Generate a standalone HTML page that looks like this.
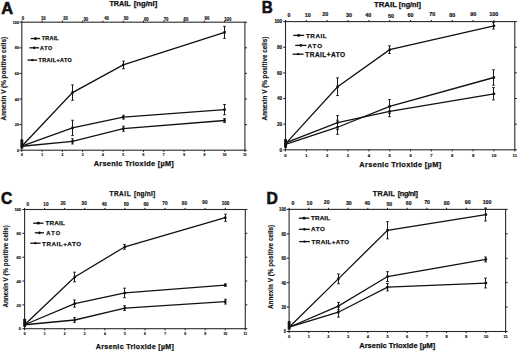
<!DOCTYPE html>
<html><head><meta charset="utf-8"><style>
html,body{margin:0;padding:0;background:#fff;}
svg{display:block;}
text{font-family:"Liberation Sans", sans-serif;font-weight:bold;fill:#111;}
.G,.T{stroke:#111;stroke-width:0.25px;}
.Y{stroke:#111;stroke-width:0.15px;}
.L{font-size:16.4px;stroke:#111;stroke-width:0.6px;}
.tb{font-size:3.7px;text-anchor:middle;fill:#111;stroke:#111;stroke-width:0.15px;}
.tt{font-size:5px;text-anchor:middle;fill:#111;stroke:#111;stroke-width:0.15px;}
.tl{font-size:4.1px;text-anchor:end;fill:#111;stroke:#111;stroke-width:0.15px;}
.ax{fill:none;stroke:#2a2a2a;stroke-width:1.1;}
.tk{fill:none;stroke:#1a1a1a;stroke-width:1.0;}
.dl{fill:none;stroke:#111;stroke-width:1.3;}
.ll{fill:none;stroke:#111;stroke-width:1.3;}
.eb{fill:none;stroke:#1a1a1a;stroke-width:1.0;}
.mk{fill:#111;}
</style></head><body>
<svg width="520" height="351" viewBox="0 0 520 351">
<text transform="translate(1.3,13.6) scale(1.0,1)" class="L">A</text>
<rect x="21.8" y="22.2" width="223.1" height="128" class="ax"/>
<path d="M21.8 150.2v1.6 M42.08 150.2v1.6 M62.36 150.2v1.6 M82.65 150.2v1.6 M102.93 150.2v1.6 M123.21 150.2v1.6 M143.49 150.2v1.6 M163.77 150.2v1.6 M184.05 150.2v1.6 M204.34 150.2v1.6 M224.62 150.2v1.6 M244.9 150.2v1.6 M21.8 22.2v-1.6 M42.08 22.2v-1.6 M62.36 22.2v-1.6 M82.65 22.2v-1.6 M102.93 22.2v-1.6 M123.21 22.2v-1.6 M143.49 22.2v-1.6 M163.77 22.2v-1.6 M184.05 22.2v-1.6 M204.34 22.2v-1.6 M224.62 22.2v-1.6 M21.8 150.2h-2.2 M244.9 150.2h2.0 M21.8 124.6h-2.2 M244.9 124.6h2.0 M21.8 99h-2.2 M244.9 99h2.0 M21.8 73.4h-2.2 M244.9 73.4h2.0 M21.8 47.8h-2.2 M244.9 47.8h2.0 M21.8 22.2h-2.2 M244.9 22.2h2.0" class="tk"/>
<text x="21.8" y="155.65" class="tb" style="font-size:3.3px">0</text>
<text x="42.08" y="155.65" class="tb" style="font-size:3.3px">1</text>
<text x="62.36" y="155.65" class="tb" style="font-size:3.3px">2</text>
<text x="82.65" y="155.65" class="tb" style="font-size:3.3px">3</text>
<text x="102.93" y="155.65" class="tb" style="font-size:3.3px">4</text>
<text x="123.21" y="155.65" class="tb" style="font-size:3.3px">5</text>
<text x="143.49" y="155.65" class="tb" style="font-size:3.3px">6</text>
<text x="163.77" y="155.65" class="tb" style="font-size:3.3px">7</text>
<text x="184.05" y="155.65" class="tb" style="font-size:3.3px">8</text>
<text x="204.34" y="155.65" class="tb" style="font-size:3.3px">9</text>
<text x="224.62" y="155.65" class="tb" style="font-size:3.3px">10</text>
<text x="244.9" y="155.65" class="tb" style="font-size:3.3px">11</text>
<text x="23" y="20.05" class="tt" style="font-size:4.7px" textLength="2.4" lengthAdjust="spacingAndGlyphs">0</text>
<text x="43.28" y="20.05" class="tt" style="font-size:4.7px" textLength="4.8" lengthAdjust="spacingAndGlyphs">10</text>
<text x="65.56" y="20.25" class="tt" style="font-size:4.7px" textLength="4.8" lengthAdjust="spacingAndGlyphs">20</text>
<text x="85.85" y="20.65" class="tt" style="font-size:4.7px" textLength="4.8" lengthAdjust="spacingAndGlyphs">30</text>
<text x="106.63" y="20.25" class="tt" style="font-size:4.7px" textLength="4.8" lengthAdjust="spacingAndGlyphs">40</text>
<text x="126.11" y="20.05" class="tt" style="font-size:4.7px" textLength="4.8" lengthAdjust="spacingAndGlyphs">50</text>
<text x="146.29" y="20.65" class="tt" style="font-size:4.7px" textLength="4.8" lengthAdjust="spacingAndGlyphs">60</text>
<text x="166.07" y="20.55" class="tt" style="font-size:4.7px" textLength="4.8" lengthAdjust="spacingAndGlyphs">70</text>
<text x="185.95" y="20.95" class="tt" style="font-size:4.7px" textLength="4.8" lengthAdjust="spacingAndGlyphs">80</text>
<text x="206.94" y="20.25" class="tt" style="font-size:4.7px" textLength="4.8" lengthAdjust="spacingAndGlyphs">90</text>
<text x="227.82" y="20.95" class="tt" style="font-size:4.7px" textLength="7.2" lengthAdjust="spacingAndGlyphs">100</text>
<text x="19" y="151.75" class="tl" style="font-size:3.8px" textLength="2.1" lengthAdjust="spacingAndGlyphs">0</text>
<text x="19" y="126.15" class="tl" style="font-size:3.8px" textLength="4.2" lengthAdjust="spacingAndGlyphs">20</text>
<text x="19" y="100.55" class="tl" style="font-size:3.8px" textLength="4.2" lengthAdjust="spacingAndGlyphs">40</text>
<text x="19" y="74.95" class="tl" style="font-size:3.8px" textLength="4.2" lengthAdjust="spacingAndGlyphs">60</text>
<text x="19" y="49.35" class="tl" style="font-size:3.8px" textLength="4.2" lengthAdjust="spacingAndGlyphs">80</text>
<text x="19" y="23.75" class="tl" style="font-size:3.8px" textLength="6.3" lengthAdjust="spacingAndGlyphs">100</text>
<text x="109.4" y="5.8" class="T" style="font-size:6.31px" textLength="21.2" lengthAdjust="spacingAndGlyphs">TRAIL</text>
<text x="133.8" y="5.8" class="T" style="font-size:6.31px" textLength="23.4" lengthAdjust="spacingAndGlyphs">[ng/nl]</text>
<text x="93.7" y="165.9" class="T" style="font-size:7.32px" textLength="80.1" lengthAdjust="spacing">Arsenic Trioxide [µM]</text>
<text transform="translate(6.3,120.4) rotate(-90)" class="Y" style="font-size:6.58px" textLength="83.6" lengthAdjust="spacingAndGlyphs">Annexin V (% positive cells)</text>
<path d="M30.7 38.55H40.2" class="ll"/>
<ellipse cx="35.45" cy="38.55" rx="1.7" ry="1.35" class="mk"/>
<text x="41.8" y="40.4" class="G" style="font-size:5.46px" textLength="16.9" lengthAdjust="spacing">TRAIL</text>
<path d="M29.5 47.8H39" class="ll"/>
<circle cx="34.25" cy="47.8" r="1.35" class="mk"/>
<text x="39.9" y="49.5" class="G" style="font-size:5.32px" textLength="12.3" lengthAdjust="spacing">ATO</text>
<path d="M27.5 60.1H37.2" class="ll"/>
<ellipse cx="32.35" cy="60.1" rx="1.4" ry="1.1" class="mk"/>
<text x="38.4" y="62" class="G" style="font-size:5.46px" textLength="33.4" lengthAdjust="spacing">TRAIL+ATO</text>
<polyline points="21.8,146.23 72.5,92.6 123.21,64.95 224.62,32.31" class="dl"/>
<path d="M72.5 84.92V100.28M71.2 84.92h2.6M71.2 100.28h2.6 M123.5 61.11V68.79M122.2 61.11h2.6M122.2 68.79h2.6 M224.5 26.3V38.33M223.2 26.3h2.6M223.2 38.33h2.6" class="eb"/>
<rect x="71.3" y="91.4" width="2.4" height="2.4" class="mk"/>
<rect x="122.01" y="63.75" width="2.4" height="2.4" class="mk"/>
<rect x="223.42" y="31.11" width="2.4" height="2.4" class="mk"/>
<polyline points="21.8,146.23 72.5,127.93 123.21,117.18 224.62,109.62" class="dl"/>
<path d="M72.5 120.25V135.61M71.2 120.25h2.6M71.2 135.61h2.6 M123.5 115.26V119.1M122.2 115.26h2.6M122.2 119.1h2.6 M224.5 104.5V114.74M223.2 104.5h2.6M223.2 114.74h2.6" class="eb"/>
<rect x="71.3" y="126.73" width="2.4" height="2.4" class="mk"/>
<rect x="122.01" y="115.98" width="2.4" height="2.4" class="mk"/>
<rect x="223.42" y="108.42" width="2.4" height="2.4" class="mk"/>
<polyline points="21.8,146.23 72.5,141.37 123.21,128.7 224.62,120.5" class="dl"/>
<path d="M72.5 138.81V143.93M71.2 138.81h2.6M71.2 143.93h2.6 M123.5 126.14V131.26M122.2 126.14h2.6M122.2 131.26h2.6 M224.5 118.58V122.42M223.2 118.58h2.6M223.2 122.42h2.6" class="eb"/>
<rect x="71.3" y="140.17" width="2.4" height="2.4" class="mk"/>
<rect x="122.01" y="127.5" width="2.4" height="2.4" class="mk"/>
<rect x="223.42" y="119.3" width="2.4" height="2.4" class="mk"/>
<rect x="20.4" y="139.32" width="2.9" height="9.22" rx="0.6" class="mk"/>
<text transform="translate(261.8,13.4) scale(0.93,1)" class="L">B</text>
<rect x="285.5" y="21.6" width="229.3" height="128.2" class="ax"/>
<path d="M285.5 149.8v1.6 M306.35 149.8v1.6 M327.19 149.8v1.6 M348.04 149.8v1.6 M368.88 149.8v1.6 M389.73 149.8v1.6 M410.57 149.8v1.6 M431.42 149.8v1.6 M452.26 149.8v1.6 M473.11 149.8v1.6 M493.95 149.8v1.6 M514.8 149.8v1.6 M285.5 21.6v-1.6 M306.35 21.6v-1.6 M327.19 21.6v-1.6 M348.04 21.6v-1.6 M368.88 21.6v-1.6 M389.73 21.6v-1.6 M410.57 21.6v-1.6 M431.42 21.6v-1.6 M452.26 21.6v-1.6 M473.11 21.6v-1.6 M493.95 21.6v-1.6 M285.5 149.8h-2.2 M514.8 149.8h2.0 M285.5 124.16h-2.2 M514.8 124.16h2.0 M285.5 98.52h-2.2 M514.8 98.52h2.0 M285.5 72.88h-2.2 M514.8 72.88h2.0 M285.5 47.24h-2.2 M514.8 47.24h2.0 M285.5 21.6h-2.2 M514.8 21.6h2.0" class="tk"/>
<text x="285.5" y="156.5" class="tb" style="font-size:4.2px">0</text>
<text x="306.35" y="156.5" class="tb" style="font-size:4.2px">1</text>
<text x="327.19" y="156.5" class="tb" style="font-size:4.2px">2</text>
<text x="348.04" y="156.5" class="tb" style="font-size:4.2px">3</text>
<text x="368.88" y="156.5" class="tb" style="font-size:4.2px">4</text>
<text x="389.73" y="156.5" class="tb" style="font-size:4.2px">5</text>
<text x="410.57" y="156.5" class="tb" style="font-size:4.2px">6</text>
<text x="431.42" y="156.5" class="tb" style="font-size:4.2px">7</text>
<text x="452.26" y="156.5" class="tb" style="font-size:4.2px">8</text>
<text x="473.11" y="156.5" class="tb" style="font-size:4.2px">9</text>
<text x="493.95" y="156.5" class="tb" style="font-size:4.2px">10</text>
<text x="514.8" y="156.5" class="tb" style="font-size:4.2px">11</text>
<text x="288.9" y="17.4" class="tt" style="font-size:5.0px" textLength="3" lengthAdjust="spacingAndGlyphs">0</text>
<text x="307.75" y="17.3" class="tt" style="font-size:5.0px" textLength="6" lengthAdjust="spacingAndGlyphs">10</text>
<text x="325.29" y="16.2" class="tt" style="font-size:5.0px" textLength="6" lengthAdjust="spacingAndGlyphs">20</text>
<text x="349.14" y="16.8" class="tt" style="font-size:5.0px" textLength="6" lengthAdjust="spacingAndGlyphs">30</text>
<text x="368.28" y="17.2" class="tt" style="font-size:5.0px" textLength="6" lengthAdjust="spacingAndGlyphs">40</text>
<text x="391.13" y="17.6" class="tt" style="font-size:5.0px" textLength="6" lengthAdjust="spacingAndGlyphs">50</text>
<text x="410.57" y="17.2" class="tt" style="font-size:5.0px" textLength="6" lengthAdjust="spacingAndGlyphs">60</text>
<text x="432.22" y="15.9" class="tt" style="font-size:5.0px" textLength="6" lengthAdjust="spacingAndGlyphs">70</text>
<text x="452.36" y="17" class="tt" style="font-size:5.0px" textLength="6" lengthAdjust="spacingAndGlyphs">80</text>
<text x="473.31" y="15.6" class="tt" style="font-size:5.0px" textLength="6" lengthAdjust="spacingAndGlyphs">90</text>
<text x="493.75" y="15.9" class="tt" style="font-size:5.0px" textLength="9" lengthAdjust="spacingAndGlyphs">100</text>
<text x="282.2" y="151.6" class="tl" style="font-size:4.5px" textLength="2.6" lengthAdjust="spacingAndGlyphs">0</text>
<text x="282.2" y="125.96" class="tl" style="font-size:4.5px" textLength="5.2" lengthAdjust="spacingAndGlyphs">20</text>
<text x="282.2" y="100.32" class="tl" style="font-size:4.5px" textLength="5.2" lengthAdjust="spacingAndGlyphs">40</text>
<text x="282.2" y="74.68" class="tl" style="font-size:4.5px" textLength="5.2" lengthAdjust="spacingAndGlyphs">60</text>
<text x="282.2" y="49.04" class="tl" style="font-size:4.5px" textLength="5.2" lengthAdjust="spacingAndGlyphs">80</text>
<text x="282.2" y="23.4" class="tl" style="font-size:4.5px" textLength="7.8" lengthAdjust="spacingAndGlyphs">100</text>
<text x="374" y="6.9" class="T" style="font-size:6.58px" textLength="22.9" lengthAdjust="spacingAndGlyphs">TRAIL</text>
<text x="398.8" y="6.9" class="T" style="font-size:6.58px" textLength="22.2" lengthAdjust="spacingAndGlyphs">[ng/nl]</text>
<text x="359.3" y="167.1" class="T" style="font-size:7.45px" textLength="81.9" lengthAdjust="spacing">Arsenic Trioxide [µM]</text>
<text transform="translate(267.1,120.4) rotate(-90)" class="Y" style="font-size:6.58px" textLength="83.7" lengthAdjust="spacingAndGlyphs">Annexin V (% positive cells)</text>
<path d="M293.2 35.4H304.2" class="ll"/>
<ellipse cx="298.7" cy="35.4" rx="1.7" ry="1.35" class="mk"/>
<text x="305.9" y="37.5" class="G" style="font-size:6.25px" textLength="20.8" lengthAdjust="spacing">TRAIL</text>
<path d="M295.2 45.4H306.5" class="ll"/>
<circle cx="300.85" cy="45.4" r="1.35" class="mk"/>
<text x="307.6" y="47.5" class="G" style="font-size:6.25px" textLength="14.4" lengthAdjust="spacing">ATO</text>
<path d="M292.6 54.2H303.6" class="ll"/>
<ellipse cx="298.1" cy="54.2" rx="1.4" ry="1.1" class="mk"/>
<text x="305.3" y="56.5" class="G" style="font-size:6.52px" textLength="39.8" lengthAdjust="spacing">TRAIL+ATO</text>
<polyline points="285.5,143.9 337.61,86.73 389.73,49.68 493.95,25.83" class="dl"/>
<path d="M337.5 77.88V95.57M336.2 77.88h2.6M336.2 95.57h2.6 M389.5 45.83V53.52M388.2 45.83h2.6M388.2 53.52h2.6 M493.5 22.63V29.04M492.2 22.63h2.6M492.2 29.04h2.6" class="eb"/>
<rect x="336.41" y="85.53" width="2.4" height="2.4" class="mk"/>
<rect x="388.53" y="48.48" width="2.4" height="2.4" class="mk"/>
<rect x="492.75" y="24.63" width="2.4" height="2.4" class="mk"/>
<polyline points="285.5,144.29 337.61,127.24 389.73,106.47 493.95,77.5" class="dl"/>
<path d="M337.5 120.19V134.29M336.2 120.19h2.6M336.2 134.29h2.6 M389.5 99.55V113.39M388.2 99.55h2.6M388.2 113.39h2.6 M493.5 69.8V85.19M492.2 69.8h2.6M492.2 85.19h2.6" class="eb"/>
<rect x="336.41" y="126.04" width="2.4" height="2.4" class="mk"/>
<rect x="388.53" y="105.27" width="2.4" height="2.4" class="mk"/>
<rect x="492.75" y="76.3" width="2.4" height="2.4" class="mk"/>
<polyline points="285.5,142.88 337.61,122.62 389.73,111.34 493.95,93.78" class="dl"/>
<path d="M337.5 115.57V129.67M336.2 115.57h2.6M336.2 129.67h2.6 M389.5 105.96V116.72M388.2 105.96h2.6M388.2 116.72h2.6 M493.5 87.62V99.93M492.2 87.62h2.6M492.2 99.93h2.6" class="eb"/>
<rect x="336.41" y="121.42" width="2.4" height="2.4" class="mk"/>
<rect x="388.53" y="110.14" width="2.4" height="2.4" class="mk"/>
<rect x="492.75" y="92.58" width="2.4" height="2.4" class="mk"/>
<rect x="284.1" y="138.9" width="2.9" height="8.97" rx="0.6" class="mk"/>
<text transform="translate(0.9,203.95) scale(0.95,1)" class="L">C</text>
<rect x="24.6" y="209.5" width="220.7" height="119.2" class="ax"/>
<path d="M24.6 328.7v1.6 M44.66 328.7v1.6 M64.73 328.7v1.6 M84.79 328.7v1.6 M104.85 328.7v1.6 M124.92 328.7v1.6 M144.98 328.7v1.6 M165.05 328.7v1.6 M185.11 328.7v1.6 M205.17 328.7v1.6 M225.24 328.7v1.6 M245.3 328.7v1.6 M24.6 209.5v-1.6 M44.66 209.5v-1.6 M64.73 209.5v-1.6 M84.79 209.5v-1.6 M104.85 209.5v-1.6 M124.92 209.5v-1.6 M144.98 209.5v-1.6 M165.05 209.5v-1.6 M185.11 209.5v-1.6 M205.17 209.5v-1.6 M225.24 209.5v-1.6 M24.6 328.7h-2.2 M245.3 328.7h2.0 M24.6 304.86h-2.2 M245.3 304.86h2.0 M24.6 281.02h-2.2 M245.3 281.02h2.0 M24.6 257.18h-2.2 M245.3 257.18h2.0 M24.6 233.34h-2.2 M245.3 233.34h2.0 M24.6 209.5h-2.2 M245.3 209.5h2.0" class="tk"/>
<text x="24.6" y="335.15" class="tb" style="font-size:3.3px">0</text>
<text x="44.66" y="335.15" class="tb" style="font-size:3.3px">1</text>
<text x="64.73" y="335.15" class="tb" style="font-size:3.3px">2</text>
<text x="84.79" y="335.15" class="tb" style="font-size:3.3px">3</text>
<text x="104.85" y="335.15" class="tb" style="font-size:3.3px">4</text>
<text x="124.92" y="335.15" class="tb" style="font-size:3.3px">5</text>
<text x="144.98" y="335.15" class="tb" style="font-size:3.3px">6</text>
<text x="165.05" y="335.15" class="tb" style="font-size:3.3px">7</text>
<text x="185.11" y="335.15" class="tb" style="font-size:3.3px">8</text>
<text x="205.17" y="335.15" class="tb" style="font-size:3.3px">9</text>
<text x="225.24" y="335.15" class="tb" style="font-size:3.3px">10</text>
<text x="245.3" y="335.15" class="tb" style="font-size:3.3px">11</text>
<text x="27.9" y="205.9" class="tt" style="font-size:5.0px" textLength="2.6" lengthAdjust="spacingAndGlyphs">0</text>
<text x="45.96" y="205.6" class="tt" style="font-size:5.0px" textLength="5.2" lengthAdjust="spacingAndGlyphs">10</text>
<text x="63.03" y="204.8" class="tt" style="font-size:5.0px" textLength="5.2" lengthAdjust="spacingAndGlyphs">20</text>
<text x="84.19" y="205.4" class="tt" style="font-size:5.0px" textLength="5.2" lengthAdjust="spacingAndGlyphs">30</text>
<text x="104.25" y="205.8" class="tt" style="font-size:5.0px" textLength="5.2" lengthAdjust="spacingAndGlyphs">40</text>
<text x="126.32" y="205.8" class="tt" style="font-size:5.0px" textLength="5.2" lengthAdjust="spacingAndGlyphs">50</text>
<text x="146.08" y="206.1" class="tt" style="font-size:5.0px" textLength="5.2" lengthAdjust="spacingAndGlyphs">60</text>
<text x="164.95" y="204.9" class="tt" style="font-size:5.0px" textLength="5.2" lengthAdjust="spacingAndGlyphs">70</text>
<text x="184.41" y="205.4" class="tt" style="font-size:5.0px" textLength="5.2" lengthAdjust="spacingAndGlyphs">80</text>
<text x="204.97" y="204.1" class="tt" style="font-size:5.0px" textLength="5.2" lengthAdjust="spacingAndGlyphs">90</text>
<text x="225.54" y="204.8" class="tt" style="font-size:5.0px" textLength="7.8" lengthAdjust="spacingAndGlyphs">100</text>
<text x="21" y="330.36" class="tl" style="font-size:4.1px" textLength="2.2" lengthAdjust="spacingAndGlyphs">0</text>
<text x="21" y="306.52" class="tl" style="font-size:4.1px" textLength="4.4" lengthAdjust="spacingAndGlyphs">20</text>
<text x="21" y="282.68" class="tl" style="font-size:4.1px" textLength="4.4" lengthAdjust="spacingAndGlyphs">40</text>
<text x="21" y="258.84" class="tl" style="font-size:4.1px" textLength="4.4" lengthAdjust="spacingAndGlyphs">60</text>
<text x="21" y="235" class="tl" style="font-size:4.1px" textLength="4.4" lengthAdjust="spacingAndGlyphs">80</text>
<text x="21" y="211.16" class="tl" style="font-size:4.1px" textLength="6.6" lengthAdjust="spacingAndGlyphs">100</text>
<text x="109.4" y="195.9" class="T" style="font-size:6.45px" textLength="21.2" lengthAdjust="spacing">TRAIL</text>
<text x="134" y="195.9" class="T" style="font-size:6.45px" textLength="21.2" lengthAdjust="spacing">[ng/nl]</text>
<text x="95.7" y="349" class="T" style="font-size:7.05px" textLength="78.2" lengthAdjust="spacing">Arsenic Trioxide [µM]</text>
<text transform="translate(8.3,307.6) rotate(-90)" class="Y" style="font-size:6.86px" textLength="82.4" lengthAdjust="spacingAndGlyphs">Annexin V (% positive cells)</text>
<path d="M33.1 223.2H43.5" class="ll"/>
<ellipse cx="38.3" cy="223.2" rx="1.7" ry="1.35" class="mk"/>
<text x="45.5" y="225.3" class="G" style="font-size:6.25px" textLength="19.3" lengthAdjust="spacing">TRAIL</text>
<path d="M34.8 232.8H44" class="ll"/>
<circle cx="39.4" cy="232.8" r="1.35" class="mk"/>
<text x="46.3" y="234.5" class="G" style="font-size:5.72px" textLength="13.9" lengthAdjust="spacing">ATO</text>
<path d="M30.2 243.2H40.6" class="ll"/>
<ellipse cx="35.4" cy="243.2" rx="1.4" ry="1.1" class="mk"/>
<text x="42.1" y="245.6" class="G" style="font-size:6.25px" textLength="38.9" lengthAdjust="spacing">TRAIL+ATO</text>
<polyline points="24.6,324.77 74.76,276.97 124.92,246.81 225.24,217.72" class="dl"/>
<path d="M74.5 272.2V281.74M73.2 272.2h2.6M73.2 281.74h2.6 M124.5 244.43V249.19M123.2 244.43h2.6M123.2 249.19h2.6 M225.5 214.15V221.3M224.2 214.15h2.6M224.2 221.3h2.6" class="eb"/>
<rect x="73.56" y="275.77" width="2.4" height="2.4" class="mk"/>
<rect x="123.72" y="245.61" width="2.4" height="2.4" class="mk"/>
<rect x="224.04" y="216.52" width="2.4" height="2.4" class="mk"/>
<polyline points="24.6,324.77 74.76,303.55 124.92,292.94 225.24,285.07" class="dl"/>
<path d="M74.5 299.97V307.12M73.2 299.97h2.6M73.2 307.12h2.6 M124.5 288.17V297.71M123.2 288.17h2.6M123.2 297.71h2.6 M225.5 283.88V286.26M224.2 283.88h2.6M224.2 286.26h2.6" class="eb"/>
<rect x="73.56" y="302.35" width="2.4" height="2.4" class="mk"/>
<rect x="123.72" y="291.74" width="2.4" height="2.4" class="mk"/>
<rect x="224.04" y="283.87" width="2.4" height="2.4" class="mk"/>
<polyline points="24.6,324.77 74.76,320 124.92,308.08 225.24,301.64" class="dl"/>
<path d="M74.5 317.61V322.38M73.2 317.61h2.6M73.2 322.38h2.6 M124.5 305.69V310.46M123.2 305.69h2.6M123.2 310.46h2.6 M225.5 299.26V304.03M224.2 299.26h2.6M224.2 304.03h2.6" class="eb"/>
<rect x="73.56" y="318.8" width="2.4" height="2.4" class="mk"/>
<rect x="123.72" y="306.88" width="2.4" height="2.4" class="mk"/>
<rect x="224.04" y="300.44" width="2.4" height="2.4" class="mk"/>
<rect x="23.2" y="318.69" width="2.9" height="8.22" rx="0.6" class="mk"/>
<text transform="translate(266.4,203.6) scale(0.96,1)" class="L">D</text>
<rect x="289.1" y="209.4" width="216.5" height="122.1" class="ax"/>
<path d="M289.1 331.5v1.6 M308.78 331.5v1.6 M328.46 331.5v1.6 M348.15 331.5v1.6 M367.83 331.5v1.6 M387.51 331.5v1.6 M407.19 331.5v1.6 M426.87 331.5v1.6 M446.55 331.5v1.6 M466.24 331.5v1.6 M485.92 331.5v1.6 M505.6 331.5v1.6 M289.1 209.4v-1.6 M308.78 209.4v-1.6 M328.46 209.4v-1.6 M348.15 209.4v-1.6 M367.83 209.4v-1.6 M387.51 209.4v-1.6 M407.19 209.4v-1.6 M426.87 209.4v-1.6 M446.55 209.4v-1.6 M466.24 209.4v-1.6 M485.92 209.4v-1.6 M289.1 331.5h-2.2 M505.6 331.5h2.0 M289.1 307.08h-2.2 M505.6 307.08h2.0 M289.1 282.66h-2.2 M505.6 282.66h2.0 M289.1 258.24h-2.2 M505.6 258.24h2.0 M289.1 233.82h-2.2 M505.6 233.82h2.0 M289.1 209.4h-2.2 M505.6 209.4h2.0" class="tk"/>
<text x="289.1" y="338" class="tb" style="font-size:4.0px">0</text>
<text x="308.78" y="338" class="tb" style="font-size:4.0px">1</text>
<text x="328.46" y="338" class="tb" style="font-size:4.0px">2</text>
<text x="348.15" y="338" class="tb" style="font-size:4.0px">3</text>
<text x="367.83" y="338" class="tb" style="font-size:4.0px">4</text>
<text x="387.51" y="338" class="tb" style="font-size:4.0px">5</text>
<text x="407.19" y="338" class="tb" style="font-size:4.0px">6</text>
<text x="426.87" y="338" class="tb" style="font-size:4.0px">7</text>
<text x="446.55" y="338" class="tb" style="font-size:4.0px">8</text>
<text x="466.24" y="338" class="tb" style="font-size:4.0px">9</text>
<text x="485.92" y="338" class="tb" style="font-size:4.0px">10</text>
<text x="505.6" y="338" class="tb" style="font-size:4.0px">11</text>
<text x="292.9" y="205.4" class="tt" style="font-size:5.0px" textLength="2.9" lengthAdjust="spacingAndGlyphs">0</text>
<text x="309.48" y="205.4" class="tt" style="font-size:5.0px" textLength="5.8" lengthAdjust="spacingAndGlyphs">10</text>
<text x="326.76" y="204.2" class="tt" style="font-size:5.0px" textLength="5.8" lengthAdjust="spacingAndGlyphs">20</text>
<text x="348.85" y="204.8" class="tt" style="font-size:5.0px" textLength="5.8" lengthAdjust="spacingAndGlyphs">30</text>
<text x="367.33" y="205" class="tt" style="font-size:5.0px" textLength="5.8" lengthAdjust="spacingAndGlyphs">40</text>
<text x="389.31" y="205.6" class="tt" style="font-size:5.0px" textLength="5.8" lengthAdjust="spacingAndGlyphs">50</text>
<text x="408.69" y="205" class="tt" style="font-size:5.0px" textLength="5.8" lengthAdjust="spacingAndGlyphs">60</text>
<text x="427.07" y="204.3" class="tt" style="font-size:5.0px" textLength="5.8" lengthAdjust="spacingAndGlyphs">70</text>
<text x="446.65" y="205" class="tt" style="font-size:5.0px" textLength="5.8" lengthAdjust="spacingAndGlyphs">80</text>
<text x="467.64" y="203.6" class="tt" style="font-size:5.0px" textLength="5.8" lengthAdjust="spacingAndGlyphs">90</text>
<text x="487.02" y="204" class="tt" style="font-size:5.0px" textLength="8.7" lengthAdjust="spacingAndGlyphs">100</text>
<text x="286.2" y="333.4" class="tl" style="font-size:4.8px" textLength="2.4" lengthAdjust="spacingAndGlyphs">0</text>
<text x="286.2" y="308.98" class="tl" style="font-size:4.8px" textLength="4.8" lengthAdjust="spacingAndGlyphs">20</text>
<text x="286.2" y="284.56" class="tl" style="font-size:4.8px" textLength="4.8" lengthAdjust="spacingAndGlyphs">40</text>
<text x="286.2" y="260.14" class="tl" style="font-size:4.8px" textLength="4.8" lengthAdjust="spacingAndGlyphs">60</text>
<text x="286.2" y="235.72" class="tl" style="font-size:4.8px" textLength="4.8" lengthAdjust="spacingAndGlyphs">80</text>
<text x="286.2" y="211.3" class="tl" style="font-size:4.8px" textLength="7.2" lengthAdjust="spacingAndGlyphs">100</text>
<text x="372.8" y="195.7" class="T" style="font-size:7.27px" textLength="22.2" lengthAdjust="spacing">TRAIL</text>
<text x="397.8" y="195.7" class="T" style="font-size:7.27px" textLength="20" lengthAdjust="spacing">[ng/nl]</text>
<text x="359.3" y="348.4" class="T" style="font-size:7.45px" textLength="75.9" lengthAdjust="spacing">Arsenic Trioxide [µM]</text>
<text transform="translate(273.4,309) rotate(-90)" class="Y" style="font-size:6.86px" textLength="84.1" lengthAdjust="spacingAndGlyphs">Annexin V (% positive cells)</text>
<path d="M298.9 218.2H309.3" class="ll"/>
<ellipse cx="304.1" cy="218.2" rx="1.7" ry="1.35" class="mk"/>
<text x="311" y="220.3" class="G" style="font-size:6.25px" textLength="19.1" lengthAdjust="spacing">TRAIL</text>
<path d="M298.9 229.3H309.9" class="ll"/>
<circle cx="304.4" cy="229.3" r="1.35" class="mk"/>
<text x="311" y="231.4" class="G" style="font-size:6.25px" textLength="13.9" lengthAdjust="spacing">ATO</text>
<path d="M299.2 241.6H309.9" class="ll"/>
<ellipse cx="304.55" cy="241.6" rx="1.4" ry="1.1" class="mk"/>
<text x="311.6" y="244.1" class="G" style="font-size:6.25px" textLength="37.5" lengthAdjust="spacing">TRAIL+ATO</text>
<polyline points="289.1,327.23 338.3,278.87 387.51,230.28 485.92,214.53" class="dl"/>
<path d="M338.5 273.99V283.76M337.2 273.99h2.6M337.2 283.76h2.6 M387.5 221.73V238.83M386.2 221.73h2.6M386.2 238.83h2.6 M485.5 208.06V221M484.2 208.06h2.6M484.2 221h2.6" class="eb"/>
<rect x="337.1" y="277.67" width="2.4" height="2.4" class="mk"/>
<rect x="386.31" y="229.08" width="2.4" height="2.4" class="mk"/>
<rect x="484.72" y="213.33" width="2.4" height="2.4" class="mk"/>
<polyline points="289.1,327.23 338.3,306.1 387.51,276.56 485.92,259.46" class="dl"/>
<path d="M338.5 302.44V309.77M337.2 302.44h2.6M337.2 309.77h2.6 M387.5 271.67V281.44M386.2 271.67h2.6M386.2 281.44h2.6 M485.5 257.02V261.9M484.2 257.02h2.6M484.2 261.9h2.6" class="eb"/>
<rect x="337.1" y="304.9" width="2.4" height="2.4" class="mk"/>
<rect x="386.31" y="275.36" width="2.4" height="2.4" class="mk"/>
<rect x="484.72" y="258.26" width="2.4" height="2.4" class="mk"/>
<polyline points="289.1,327.23 338.3,312.21 387.51,287.18 485.92,283.03" class="dl"/>
<path d="M338.5 307.32V317.09M337.2 307.32h2.6M337.2 317.09h2.6 M387.5 283.51V290.84M386.2 283.51h2.6M386.2 290.84h2.6 M485.5 278.14V287.91M484.2 278.14h2.6M484.2 287.91h2.6" class="eb"/>
<rect x="337.1" y="311.01" width="2.4" height="2.4" class="mk"/>
<rect x="386.31" y="285.98" width="2.4" height="2.4" class="mk"/>
<rect x="484.72" y="281.83" width="2.4" height="2.4" class="mk"/>
<rect x="287.7" y="321.12" width="2.9" height="8.42" rx="0.6" class="mk"/>
</svg>
</body></html>
